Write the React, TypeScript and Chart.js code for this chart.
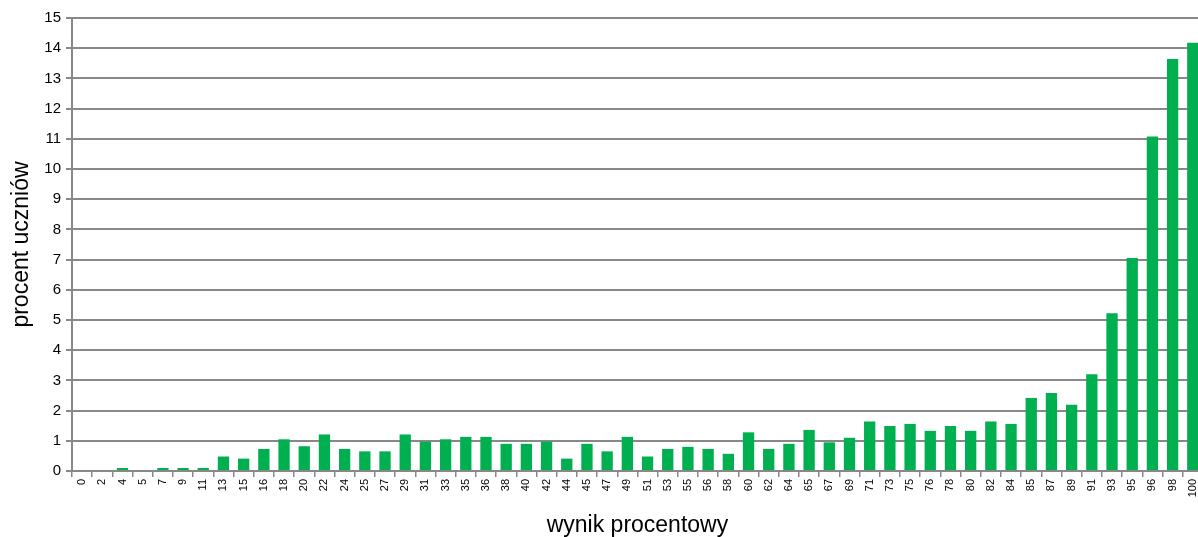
import React, { useEffect, useRef } from "react";
import { Chart, registerables } from "chart.js";

Chart.register(...registerables);

const categories: string[] = [
  "0", "2", "4", "5", "7", "9", "11", "13", "15", "16", "18", "20", "22", "24", "25", "27", "29", "31", "33", "35",
  "36", "38", "40", "42", "44", "45", "47", "49", "51", "53", "55", "56", "58", "60", "62", "64", "65", "67", "69", "71",
  "73", "75", "76", "78", "80", "82", "84", "85", "87", "89", "91", "93", "95", "96", "98", "100",
];

const percentValues: number[] = [
  0, 0, 0.1, 0, 0.1, 0.1, 0.1, 0.48, 0.41, 0.73, 1.05, 0.82, 1.21, 0.73, 0.65, 0.65, 1.21, 0.97, 1.05, 1.13,
  1.13, 0.9, 0.9, 0.97, 0.41, 0.9, 0.65, 1.13, 0.48, 0.73, 0.8, 0.73, 0.57, 1.28, 0.73, 0.9, 1.36, 0.95, 1.1, 1.64,
  1.49, 1.56, 1.33, 1.49, 1.33, 1.64, 1.56, 2.42, 2.58, 2.19, 3.2, 5.22, 7.05, 11.08, 13.64, 14.18,
];

const yTitle = "procent uczniów";
const xTitle = "wynik procentowy";

const CANVAS_W = 1208;
const CANVAS_H = 537;

export default function App() {
  const ref = useRef<HTMLCanvasElement | null>(null);

  useEffect(() => {
    document.body.style.margin = "0";
    const canvas = ref.current;
    if (!canvas) return;
    const font = "'Liberation Sans', Arial, sans-serif";
    const chart = new Chart(canvas, {
      type: "bar",
      data: {
        labels: categories,
        datasets: [
          {
            data: percentValues,
            backgroundColor: "#00B050",
            borderWidth: 0,
            barPercentage: 0.56,
            categoryPercentage: 1,
          },
        ],
      },
      options: {
        animation: false,
        responsive: false,
        maintainAspectRatio: false,
        layout: { padding: { top: 18, right: 0, bottom: 0, left: 0 } },
        plugins: {
          legend: { display: false },
          tooltip: { enabled: false },
        },
        scales: {
          x: {
            grid: {
              display: true,
              drawOnChartArea: false,
              drawTicks: true,
              offset: true,
              tickLength: 6,
              color: "#888888",
              lineWidth: 1.5,
            },
            border: { color: "#888888", width: 2 },
            ticks: {
              minRotation: 90,
              maxRotation: 90,
              autoSkip: false,
              padding: 2,
              color: "#000",
              font: { family: font, size: 11 },
            },
            title: {
              display: true,
              text: xTitle,
              color: "#000",
              font: { family: font, size: 23, lineHeight: 1 },
              padding: { top: 2, bottom: 0 },
            },
            afterFit: (scale: any) => {
              scale.height = 66;
            },
          },
          y: {
            min: 0,
            max: 15,
            ticks: {
              stepSize: 1,
              padding: 5,
              color: "#000",
              font: { family: font, size: 15 },
            },
            grid: {
              color: "#888888",
              lineWidth: 2,
              tickLength: 6,
            },
            border: { color: "#888888", width: 2 },
            title: {
              display: true,
              text: yTitle,
              color: "#000",
              font: { family: font, size: 23 },
              padding: { top: 8, bottom: 0 },
            },
            afterFit: (scale: any) => {
              scale.width = 72;
            },
          },
        },
      },
    });
    return () => chart.destroy();
  }, []);

  return (
    <div style={{ width: 1198, height: 537, overflow: "hidden" }}>
      <canvas
        ref={ref}
        width={CANVAS_W}
        height={CANVAS_H}
        style={{ display: "block", width: CANVAS_W, height: CANVAS_H }}
      />
    </div>
  );
}
